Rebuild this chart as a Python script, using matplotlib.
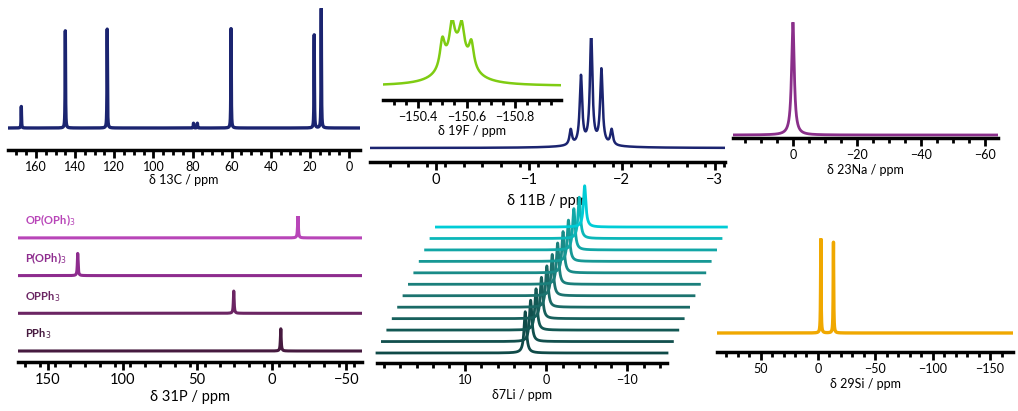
import numpy as np
import matplotlib.pyplot as plt

plt.rcParams['font.family'] = ['Lato', 'DejaVu Sans']

W, H = 1018, 411

# 13C peaks (ppm, rel. height)
c_pos = [167.5, 145.0, 123.6, 77.5, 79.5, 60.3, 17.8, 14.2]
c_hgt = [0.18, 0.81, 0.83, 0.04, 0.04, 0.84, 0.78, 1.0]
# 11B multiplet
b_pos = [-1.45, -1.56, -1.67, -1.78, -1.89]
b_hgt = [0.14, 0.62, 1.0, 0.68, 0.14]
# 19F inset
f_pos = [-150.50, -150.54, -150.58, -150.62]
f_hgt = [0.42, 0.45, 0.42, 0.38]
# 23Na
na_pos = [0.0]
na_hgt = [1.0]
# 31P stack
p_names = ['OP(OPh)$_3$', 'P(OPh)$_3$', 'OPPh$_3$', 'PPh$_3$']
p_pos = [-17.5, 130.0, 25.5, -6.0]
p_colors = ['#b845b8', '#8e2c8e', '#6b2563', '#461a3f']
# 7Li stack (12 traces)
li_pos = 2.6
li_colors = ['#0f4a48', '#114f4d', '#135854', '#17605c', '#1a6a66', '#1c736f',
             '#1b7f7b', '#198b88', '#179895', '#12a6a6', '#0cb7b9', '#00ccd6']
# 29Si
si_pos = [-2.5, -13.5]
si_hgt = [1.0, 0.96]


def lor(x, pos, hgt, w):
    y = np.zeros_like(x)
    for p, h in zip(pos, hgt):
        y += h / (1 + ((x - p) / w) ** 2)
    return y


def panel(x0, x1, ytop, ybase, yaxis, xl, xr):
    s = ybase - ytop
    ax = fig.add_axes([x0 / W, 1 - yaxis / H, (x1 - x0) / W, (yaxis - ytop) / H])
    ax.set_xlim(xl, xr)
    ax.set_ylim(-(yaxis - ybase) / s, 1)
    for k in ['top', 'left', 'right']:
        ax.spines[k].set_visible(False)
    ax.spines['bottom'].set_linewidth(2.5)
    ax.set_yticks([])
    ax.tick_params(axis='x', which='major', length=6, width=2, labelsize=9, pad=2)
    ax.tick_params(axis='x', which='minor', length=3.5, width=2)
    ax.patch.set_alpha(0)
    return ax


fig = plt.figure(figsize=(W / 100, H / 100), dpi=100)

# 13C
ax = panel(8, 360, 8, 128, 150, 174.3, -5.6)
x = np.linspace(174.3, -5.6, 6000)
ax.plot(x, lor(x, c_pos, c_hgt, 0.12), color='#1b2470', lw=2.4)
ax.set_xticks(np.arange(0, 161, 20))
ax.set_xticks(np.arange(0, 175, 5), minor=True)
ax.set_xlabel('δ 13C / ppm', fontsize=9, labelpad=1)

# 11B
ax = panel(370, 725, 38, 148, 162, 0.71, -3.11)
x = np.linspace(0.71, -3.11, 4000)
ax.plot(x, lor(x, b_pos, b_hgt, 0.016) + 0.02 * lor(x, [-1.67], [1], 0.35),
        color='#1b2470', lw=1.8)
ax.set_xticks([0, -1, -2, -3])
ax.set_xticks(np.arange(0.5, -3.11, -0.2), minor=True)
ax.set_xticklabels(['0', '−1', '−2', '−3'], fontsize=10.5)
ax.set_xlabel('δ 11B / ppm', fontsize=10.5, labelpad=5)

# 19F inset
ax = panel(383, 561, 20, 86, 100, -150.255, -150.99)
x = np.linspace(-150.255, -150.99, 3000)
ax.plot(x, lor(x, f_pos, f_hgt, 0.012) + lor(x, [-150.56], [0.55], 0.06),
        color='#7fcc12', lw=1.8)
ax.set_xticks([-150.4, -150.6, -150.8])
ax.set_xticklabels(['−150.4', '−150.6', '−150.8'])
ax.set_xticks(np.arange(-150.3, -151.0, -0.05), minor=True)
ax.set_xlabel('δ 19F / ppm', fontsize=9, labelpad=1)

# 23Na
ax = panel(733, 998, 22, 135, 138, 18.7, -64)
x = np.linspace(18.7, -64, 4000)
ax.plot(x, lor(x, na_pos, na_hgt, 0.5), color='#8a2f8a', lw=2)
ax.set_xticks([0, -20, -40, -60])
ax.set_xticklabels(['0', '−20', '−40', '−60'])
ax.set_xticks(np.arange(15, -64, -5), minor=True)
ax.set_xlabel('δ 23Na / ppm', fontsize=9, labelpad=2)

# 31P stack
ax = panel(18, 362, 216, 351, 362, 170, -60.4)
x = np.linspace(170, -60.4, 6000)
step = 37.7 / 135
for i, (name, p, c) in enumerate(zip(p_names, p_pos, p_colors)):
    off = (3 - i) * step
    ax.plot(x, off + lor(x, [p], [0.165], 0.3), color=c, lw=2.2)
    ax.text(165, off + 0.1, name, color=c, fontsize=8, fontweight='bold')
ax.set_xticks([150, 100, 50, 0, -50])
ax.set_xticklabels(['150', '100', '50', '0', '−50'], fontsize=10.5)
ax.set_xticks(np.arange(165, -60, -10), minor=True)
ax.set_xlabel('δ 31P / ppm', fontsize=10.5, labelpad=2)

# 7Li stack
ax = panel(377, 667, 200, 353, 363, 20.9, -14.9)
x = np.linspace(20.9, -14.9, 4000)
dx, dy = 5.4 / 8.1, 11.45 / 153
for i, c in enumerate(li_colors):
    ax.plot(x - i * dx, i * dy + lor(x, [li_pos], [0.27], 0.18), color=c, lw=2,
            clip_on=False)
ax.set_xticks([10, 0, -10])
ax.set_xticklabels(['10', '0', '−10'])
ax.set_xticks(np.arange(20, -15, -2), minor=True)
ax.set_xlabel('δ7Li / ppm', fontsize=9, labelpad=2)

# 29Si
ax = panel(717, 1013, 238, 333, 352, 88, -170)
x = np.linspace(88, -170, 5000)
ax.plot(x, lor(x, si_pos, si_hgt, 0.25), color='#f0a800', lw=2.4)
ax.set_xticks([50, 0, -50, -100, -150])
ax.set_xticklabels(['50', '0', '−50', '−100', '−150'])
ax.set_xticks(np.arange(80, -170, -10), minor=True)
ax.set_xlabel('δ 29Si / ppm', fontsize=9, labelpad=2)

fig.savefig('out.png', dpi=100)
